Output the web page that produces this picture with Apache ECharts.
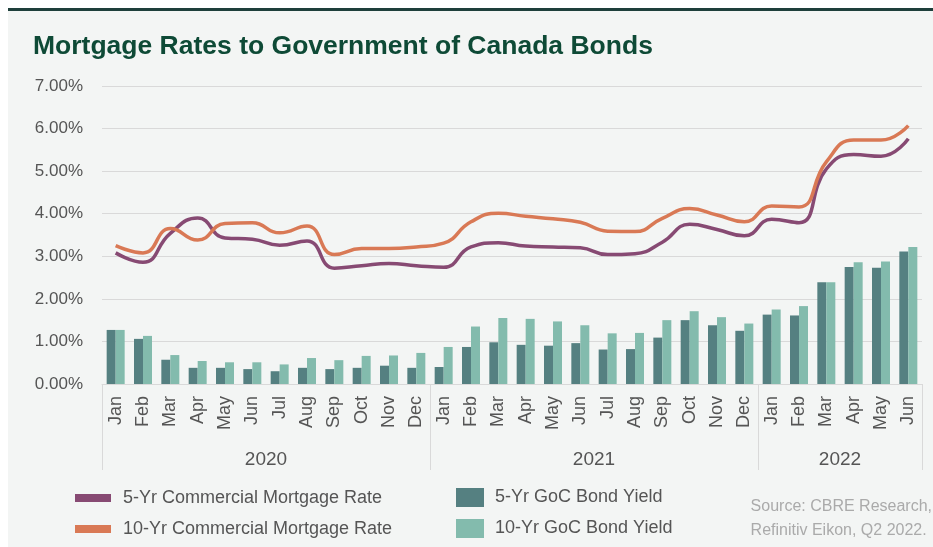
<!DOCTYPE html>
<html>
<head>
<meta charset="utf-8">
<script src="https://cdn.jsdelivr.net/npm/echarts@6/dist/echarts.min.js"></script>
<style>
html,body{margin:0;padding:0;background:#ffffff;}
#c{width:933px;height:547px;}
</style>
</head>
<body>
<div id="c"></div>
<script>
const months = ['Jan','Feb','Mar','Apr','May','Jun','Jul','Aug','Sep','Oct','Nov','Dec',
                'Jan','Feb','Mar','Apr','May','Jun','Jul','Aug','Sep','Oct','Nov','Dec',
                'Jan','Feb','Mar','Apr','May','Jun'];
const years = ['2020','2021','2022'];
const monthsPerYear = [12, 12, 6];

const rate5Yr = [3.08,2.86,3.54,3.90,3.43,3.40,3.26,3.36,2.72,2.78,2.83,2.78,
                 2.74,3.22,3.32,3.24,3.22,3.20,3.04,3.06,3.33,3.75,3.63,3.48,
                 3.87,3.79,5.05,5.39,5.35,5.76];
const rate10Yr = [3.25,3.08,3.65,3.38,3.77,3.79,3.55,3.71,3.04,3.18,3.18,3.22,
                  3.31,3.81,4.01,3.94,3.88,3.80,3.59,3.58,3.89,4.12,3.97,3.81,
                  4.18,4.16,5.22,5.73,5.73,6.07];
const goc5Yr = [1.27,1.06,0.57,0.38,0.38,0.35,0.30,0.38,0.35,0.38,0.43,0.38,
                0.40,0.87,0.98,0.92,0.90,0.96,0.81,0.82,1.09,1.50,1.38,1.25,
                1.63,1.61,2.39,2.75,2.73,3.11];
const goc10Yr = [1.27,1.13,0.68,0.54,0.51,0.51,0.46,0.61,0.56,0.66,0.67,0.73,
                 0.87,1.35,1.55,1.53,1.47,1.38,1.19,1.20,1.50,1.71,1.57,1.42,
                 1.75,1.83,2.39,2.86,2.88,3.22];

const seriesNames = ['5-Yr Commercial Mortgage Rate','10-Yr Commercial Mortgage Rate','5-Yr GoC Bond Yield','10-Yr GoC Bond Yield'];
const title = 'Mortgage Rates to Government of Canada Bonds';
const sourceText = 'Source: CBRE Research,\nRefinitiv Eikon, Q2 2022.';

// year group boundaries and centers (in month units)
const boundaries = [0];
const centers = [];
monthsPerYear.forEach((n) => {
  const start = boundaries[boundaries.length - 1];
  centers.push(start + n / 2);
  boundaries.push(start + n);
});
const total = boundaries[boundaries.length - 1];

const COL = {
  purple: '#874a73',
  orange: '#d97955',
  dark: '#558081',
  light: '#83bbad',
  text: '#555555',
  grid: '#d9d9d9'
};
const FONT = "'Liberation Sans', Arial, sans-serif";

const chart = echarts.init(document.getElementById('c'), null, {renderer: 'canvas'});
chart.setOption({
  backgroundColor: '#ffffff',
  animation: false,
  graphic: [
    {type: 'rect', left: 8, top: 8, shape: {width: 925, height: 539}, style: {fill: '#f3f5f4'}, z: -10, silent: true},
    {type: 'rect', left: 8, top: 8, shape: {width: 925, height: 3}, style: {fill: '#1e3f3b'}, z: -9, silent: true},
    {type: 'text', right: 1, top: 495, style: {text: sourceText, font: '16px ' + FONT, fill: '#aaaaaa', align: 'right', lineHeight: 24}}
  ],
  title: {
    text: title,
    left: 28, top: 28,
    textStyle: {fontFamily: FONT, fontSize: 26.5, fontWeight: 'bold', color: '#0e4a36'}
  },
  legend: [
    {
      data: [seriesNames[0], seriesNames[1]],
      orient: 'vertical', left: 75, top: 489, padding: 0,
      icon: 'rect', itemWidth: 36, itemHeight: 8, itemGap: 13,
      textStyle: {fontFamily: FONT, fontSize: 18, color: COL.text, padding: [0,0,0,7], lineHeight: 18}
    },
    {
      data: [seriesNames[2], seriesNames[3]],
      orient: 'vertical', left: 456, top: 488, padding: 0,
      icon: 'rect', itemWidth: 28, itemHeight: 19, itemGap: 12,
      textStyle: {fontFamily: FONT, fontSize: 18, color: COL.text, padding: [0,0,0,6], lineHeight: 18}
    }
  ],
  grid: {left: 102, right: 11, top: 86, bottom: 163, containLabel: false},
  xAxis: [
    {
      type: 'category', data: months, position: 'bottom',
      axisLine: {lineStyle: {color: COL.grid, width: 1}},
      axisTick: {show: false},
      axisLabel: {rotate: 90, margin: 12, fontFamily: FONT, fontSize: 18, color: COL.text, interval: 0}
    },
    {
      type: 'value', min: 0, max: total, position: 'bottom',
      axisLine: {show: false},
      splitLine: {show: false},
      axisTick: {show: true, customValues: boundaries, length: 86, inside: false, lineStyle: {color: COL.grid, width: 1}},
      axisLabel: {
        customValues: centers, margin: 66, fontFamily: FONT, fontSize: 19, color: COL.text,
        formatter: v => { const i = centers.indexOf(v); return i >= 0 ? years[i] : ''; }
      }
    }
  ],
  yAxis: {
    type: 'value', min: 0, max: 7, interval: 1,
    axisLine: {show: false}, axisTick: {show: false},
    splitLine: {lineStyle: {color: COL.grid, width: 1}},
    axisLabel: {margin: 19, fontFamily: FONT, fontSize: 17, color: COL.text, formatter: v => v.toFixed(2) + '%'}
  },
  series: [
    {name: seriesNames[2], type: 'bar', data: goc5Yr, barWidth: 9, barGap: '0%', itemStyle: {color: COL.dark}, z: 2},
    {name: seriesNames[3], type: 'bar', data: goc10Yr, barWidth: 9, barGap: '0%', itemStyle: {color: COL.light}, z: 2},
    {name: seriesNames[0], type: 'line', data: rate5Yr, smooth: 0.5, symbol: 'none', color: COL.purple, lineStyle: {width: 3.5, color: COL.purple}, itemStyle: {color: COL.purple}, z: 3},
    {name: seriesNames[1], type: 'line', data: rate10Yr, smooth: 0.5, symbol: 'none', color: COL.orange, lineStyle: {width: 3.5, color: COL.orange}, itemStyle: {color: COL.orange}, z: 3}
  ]
});
</script>
</body>
</html>
